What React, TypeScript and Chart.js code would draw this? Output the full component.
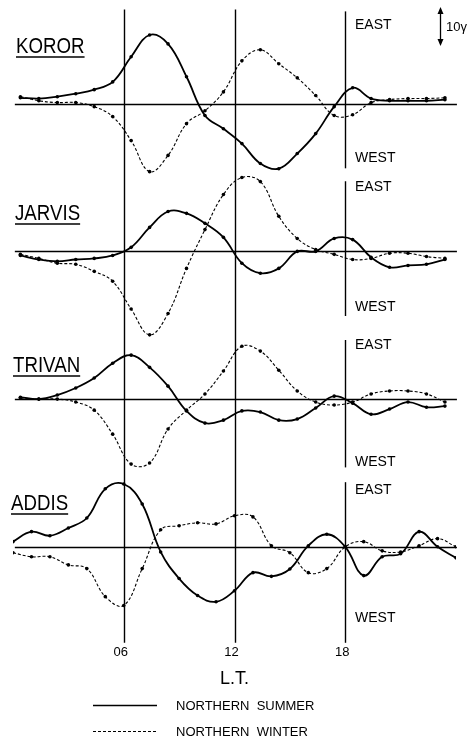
import React, { useEffect, useRef } from 'react';
import { Chart, registerables } from 'chart.js';

Chart.register(...registerables);

// Local-time sample hours (hourly samples)
const HOURS_24 = [0, 1, 2, 3, 4, 5, 6, 7, 8, 9, 10, 11, 12, 13, 14, 15, 16, 17, 18, 19, 20, 21, 22, 23];
const HOURS_25 = [0, 1, 2, 3, 4, 5, 6, 7, 8, 9, 10, 11, 12, 13, 14, 15, 16, 17, 18, 19, 20, 21, 22, 23, 24];

// Station names
const STATIONS = ['KOROR', 'JARVIS', 'TRIVAN', 'ADDIS'];

// Variation values in gamma (positive = EAST)
const KOROR_SUMMER = [1.6, 1.4, 1.9, 2.7, 3.8, 5.9, 12.7, 18.6, 16.2, 7.3, -3.2, -6.8, -10.8, -16.2, -17.6, -13.5, -8.1, -0.8, 4.3, 1.4, 0.8, 0.8, 0.8, 1.1];
const KOROR_WINTER = [1.9, 0.8, 0.3, 0.3, -0.8, -3.5, -10, -18.4, -14, -5.4, -1.9, 3.2, 11.6, 14.6, 10.8, 7, 2.2, -3.2, -3, 0.3, 1.1, 1.4, 1.4, 1.6];

const JARVIS_SUMMER = [-1.1, -2.2, -2.7, -2.2, -1.9, -1.1, 1.1, 6.5, 10.8, 10.3, 7.6, 3.8, -3.2, -5.9, -4.6, 0, 0, 3.5, 3.2, -1.6, -4.3, -3.8, -3.5, -2.2];
const JARVIS_WINTER = [-0.8, -1.9, -3.2, -3.5, -5.4, -8.1, -15.6, -22.6, -16.8, -4.6, 5.9, 15.4, 20, 18.9, 9.5, 3.5, 0.5, -0.8, -2.2, -1.9, -0.5, -0.5, -1.4, -1.9];

const TRIVAN_SUMMER = [0.5, 0, 1.1, 3, 5.7, 9.7, 11.9, 8.6, 3.5, -3.2, -6.5, -5.7, -3.2, -3.5, -5.7, -5.4, -2.4, 0.8, -1.1, -4.1, -2.7, -0.8, -2.2, -1.9];
const TRIVAN_WINTER = [0.3, 0, 0, -0.8, -3, -9.5, -17.6, -17.3, -8.1, -3, 1.4, 7.6, 14.3, 13, 7.8, 2.2, -0.8, -1.6, -0.8, 1.4, 2.2, 2.2, 1.4, -0.8];

const ADDIS_SUMMER = [1.4, 4.1, 3, 5.1, 7.8, 15.7, 17, 11.6, -1.4, -8.6, -13.2, -14.9, -11.9, -7, -8, -6, 0.3, 3.4, 0, -7.8, -2.7, -1.9, 4.1, 0, -3];
const ADDIS_WINTER = [-1.6, -2.7, -2.7, -4.9, -5.9, -13.5, -15.9, -5.9, 4.6, 5.7, 6.5, 6.2, 8.4, 8.1, 0.3, -1.6, -7, -5.9, 0, 1.4, -1.1, -1.4, 0.3, 2.2, 0];

// Tick labels
const X_TICKS = [6, 12, 18];
const X_TICK_LABELS = ['06', '12', '18'];

// Layout
const PANEL_OFFSETS = [0, -40, -80, -120];
const LT_SHIFT = [0.4, 0.4, 0.4, 0];
const SEG18 = [[25, -17.5], [19, -17.5], [16, -18.5], [17.5, null]];
const LABEL_POS = [[16, 53], [15, 220], [13, 372], [11, 510]];
const EAST_Y = [25, 187, 345, 490];
const WEST_Y = [158, 307, 462, 618];

const SERIES = [
  { hours: HOURS_24, summer: KOROR_SUMMER, winter: KOROR_WINTER },
  { hours: HOURS_24, summer: JARVIS_SUMMER, winter: JARVIS_WINTER },
  { hours: HOURS_24, summer: TRIVAN_SUMMER, winter: TRIVAN_WINTER },
  { hours: HOURS_25, summer: ADDIS_SUMMER, winter: ADDIS_WINTER },
];

const FONT = '"Liberation Sans", Arial, sans-serif';

const overlay = {
  id: 'overlay',
  beforeDatasetsDraw(chart: any) {
    const { ctx, chartArea, scales } = chart;
    const x = scales.x;
    const y = scales.y;
    ctx.save();
    ctx.strokeStyle = '#000';
    ctx.lineWidth = 1.3;
    PANEL_OFFSETS.forEach((o) => {
      const py = Math.round(y.getPixelForValue(o)) + 0.5;
      ctx.beginPath();
      ctx.moveTo(x.getPixelForValue(0.1), py);
      ctx.lineTo(x.getPixelForValue(24.05), py);
      ctx.stroke();
    });
    ctx.lineWidth = 1.4;
    [6, 12].forEach((h) => {
      const px = Math.round(x.getPixelForValue(h)) + 0.5;
      ctx.beginPath();
      ctx.moveTo(px, y.getPixelForValue(PANEL_OFFSETS[0] + 25.5));
      ctx.lineTo(px, chartArea.bottom);
      ctx.stroke();
    });
    const px18 = Math.round(x.getPixelForValue(18)) + 0.5;
    SEG18.forEach(([t, b], i) => {
      const o = PANEL_OFFSETS[i];
      ctx.beginPath();
      ctx.moveTo(px18, y.getPixelForValue(o + (t as number)));
      ctx.lineTo(px18, b === null ? chartArea.bottom : y.getPixelForValue(o + (b as number)));
      ctx.stroke();
    });
    ctx.restore();
  },
  afterDatasetsDraw(chart: any) {
    const { ctx, height } = chart;
    ctx.save();
    ctx.fillStyle = '#000';
    ctx.strokeStyle = '#000';
    // Station labels (condensed lettering, underlined)
    STATIONS.forEach((name, i) => {
      const [lx, ly] = LABEL_POS[i];
      ctx.save();
      ctx.translate(lx, ly);
      ctx.scale(0.85, 1);
      ctx.font = `22px ${FONT}`;
      ctx.textBaseline = 'alphabetic';
      ctx.textAlign = 'left';
      ctx.fillText(name, 0, 0);
      const w = ctx.measureText(name).width;
      ctx.restore();
      ctx.lineWidth = 1.5;
      ctx.beginPath();
      ctx.moveTo(lx, ly + 4);
      ctx.lineTo(lx + w * 0.85, ly + 4);
      ctx.stroke();
    });
    // EAST / WEST
    ctx.font = `14px ${FONT}`;
    ctx.textBaseline = 'middle';
    ctx.textAlign = 'left';
    EAST_Y.forEach((ey) => ctx.fillText('EAST', 355, ey));
    WEST_Y.forEach((wy) => ctx.fillText('WEST', 355, wy));
    // Scale arrow 10γ
    ctx.lineWidth = 1.3;
    ctx.beginPath();
    ctx.moveTo(440.5, 11);
    ctx.lineTo(440.5, 42);
    ctx.stroke();
    ctx.beginPath();
    ctx.moveTo(440.5, 7);
    ctx.lineTo(437.5, 14);
    ctx.lineTo(443.5, 14);
    ctx.closePath();
    ctx.fill();
    ctx.beginPath();
    ctx.moveTo(440.5, 46);
    ctx.lineTo(437.5, 39);
    ctx.lineTo(443.5, 39);
    ctx.closePath();
    ctx.fill();
    ctx.font = `13px ${FONT}`;
    ctx.fillText('10γ', 446, 27);
    // Legend
    const ly1 = height - 35;
    const ly2 = height - 9;
    ctx.lineWidth = 1.3;
    ctx.beginPath();
    ctx.moveTo(93, ly1 + 0.5);
    ctx.lineTo(157, ly1 + 0.5);
    ctx.stroke();
    ctx.setLineDash([3, 2]);
    ctx.lineWidth = 1.1;
    ctx.beginPath();
    ctx.moveTo(93, ly2 + 0.5);
    ctx.lineTo(157, ly2 + 0.5);
    ctx.stroke();
    ctx.setLineDash([]);
    ctx.font = `13px ${FONT}`;
    ctx.fillText('NORTHERN  SUMMER', 176, ly1 + 1);
    ctx.fillText('NORTHERN  WINTER', 176, ly2 + 1);
    ctx.restore();
  },
};

export default function App() {
  const canvasRef = useRef<HTMLCanvasElement | null>(null);

  useEffect(() => {
    if (!canvasRef.current) return;
    const datasets: any[] = [];
    SERIES.forEach((s, i) => {
      const off = PANEL_OFFSETS[i];
      const shift = LT_SHIFT[i];
      datasets.push({
        label: `${STATIONS[i]} northern summer`,
        data: s.hours.map((h, k) => ({ x: h + shift, y: s.summer[k] + off })),
        borderColor: '#000',
        backgroundColor: '#000',
        borderWidth: 1.8,
        pointRadius: 1.8,
        pointBorderWidth: 0,
        pointBackgroundColor: '#000',
        tension: 0.4,
        fill: false,
      });
      datasets.push({
        label: `${STATIONS[i]} northern winter`,
        data: s.hours.map((h, k) => ({ x: h + shift, y: s.winter[k] + off })),
        borderColor: '#000',
        backgroundColor: '#000',
        borderWidth: 1.1,
        borderDash: [3, 2],
        pointRadius: 1.8,
        pointBorderWidth: 0,
        pointBackgroundColor: '#000',
        tension: 0.4,
        fill: false,
      });
    });

    const chart = new Chart(canvasRef.current, {
      type: 'line',
      data: { datasets },
      options: {
        animation: false,
        responsive: false,
        devicePixelRatio: 1,
        layout: { padding: { left: 13, right: 19, top: 0, bottom: 50 } },
        plugins: { legend: { display: false }, tooltip: { enabled: false } },
        scales: {
          x: {
            type: 'linear',
            min: 0,
            max: 24,
            grid: { display: false, drawTicks: false },
            border: { display: false },
            afterBuildTicks: (scale: any) => {
              scale.ticks = X_TICKS.map((v) => ({ value: v }));
            },
            ticks: {
              padding: 2,
              labelOffset: -3,
              color: '#000',
              font: { family: FONT, size: 13 },
              callback: (v: any) => {
                const idx = X_TICKS.indexOf(Number(v));
                return idx >= 0 ? X_TICK_LABELS[idx] : '';
              },
            },
            title: {
              display: true,
              text: 'L.T.',
              color: '#000',
              font: { family: FONT, size: 18 },
              padding: { top: 6, bottom: 0 },
            },
          },
          y: {
            type: 'linear',
            display: false,
            min: -146,
            max: 27,
          },
        },
      },
      plugins: [overlay],
    });
    return () => chart.destroy();
  }, []);

  return (
    <div style={{ position: 'fixed', left: 0, top: 0, width: 475, height: 740, background: '#fff' }}>
      <canvas ref={canvasRef} width={475} height={740} style={{ display: 'block', width: 475, height: 740 }} />
    </div>
  );
}
